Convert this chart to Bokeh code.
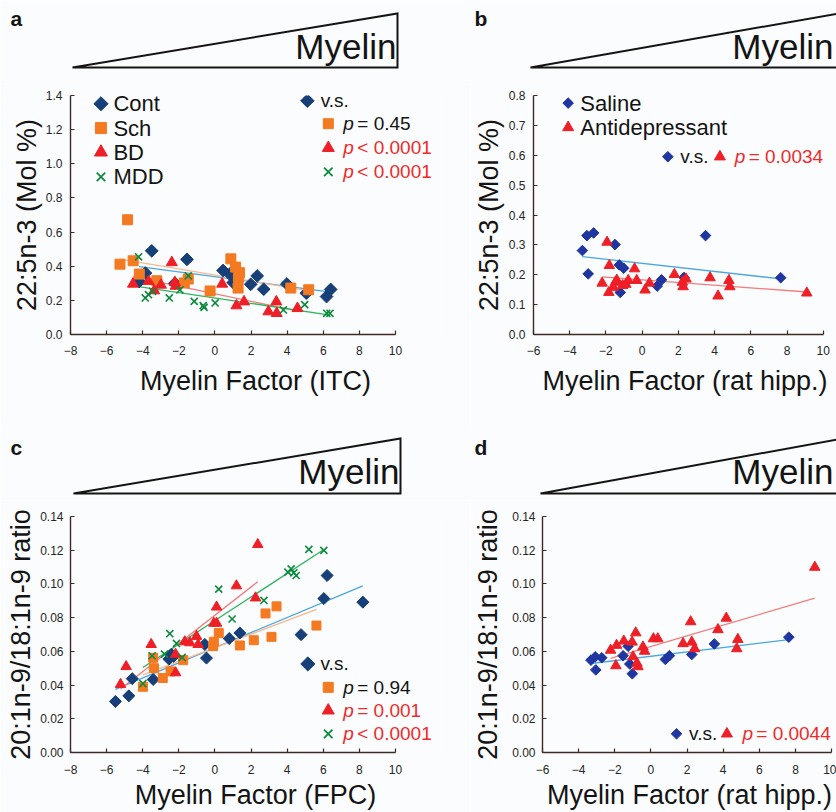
import numpy as np
from bokeh.plotting import figure
from bokeh.models import Label, FixedTicker, Range1d, CustomJSTickFormatter, NumeralTickFormatter
from bokeh.layouts import column, row
from bokeh.embed import file_html
from bokeh.resources import INLINE

# ---------------- data ----------------
# a: 22:5n-3 (Mol %) vs Myelin Factor (ITC)
cont_itc_x = [-4.2, -3.85, -3.5, -2.22, -1.55, 0.45, 0.82, 1.01, 1.98, 2.34, 2.7, 3.98, 5.06, 6.18, 6.41]
cont_itc_y = [0.31, 0.36, 0.49, 0.30, 0.44, 0.375, 0.354, 0.304, 0.294, 0.343, 0.265, 0.296, 0.242, 0.222, 0.264]
sch_itc_x = [-4.84, -5.26, -4.53, -4.19, -3.22, -1.70, -1.48, -0.27, 0.88, 1.14, 1.36, 1.30, 1.28, 4.20, 5.19]
sch_itc_y = [0.672, 0.412, 0.432, 0.354, 0.315, 0.302, 0.325, 0.255, 0.443, 0.395, 0.362, 0.334, 0.272, 0.272, 0.262]
bd_itc_x = [-4.54, -3.68, -3.36, -2.99, -2.39, -2.22, -2.18, 0.40, 1.19, 1.61, 2.96, 3.40, 3.42, 4.57]
bd_itc_y = [0.296, 0.312, 0.257, 0.290, 0.422, 0.305, 0.284, 0.296, 0.169, 0.192, 0.134, 0.192, 0.124, 0.153]
mdd_itc_x = [-4.23, -3.86, -3.68, -3.45, -2.53, -1.94, -1.48, -1.15, -0.65, -0.60, 0.01, 3.79, 4.97, 6.19, 6.37]
mdd_itc_y = [0.455, 0.214, 0.233, 0.253, 0.214, 0.261, 0.344, 0.194, 0.169, 0.159, 0.185, 0.144, 0.175, 0.124, 0.124]

# b: 22:5n-3 (Mol %) vs Myelin Factor (rat hipp.)
sal_b_x = [-3.30, -3.05, -2.68, -2.98, -1.50, -1.26, -1.02, -1.21, 0.83, 1.07, 2.31, 3.50, 7.65]
sal_b_y = [0.281, 0.331, 0.340, 0.203, 0.301, 0.233, 0.222, 0.141, 0.162, 0.183, 0.191, 0.331, 0.190]
ad_b_x = [-1.94, -2.21, -1.81, -1.84, -1.48, -1.40, -1.59, -1.08, -0.77, -0.90, -0.42, -0.30, 0.16, 0.40,
          1.78, 2.22, 2.26, 2.42, 3.75, 4.19, 4.79, 4.84, 9.09]
ad_b_y = [0.309, 0.172, 0.231, 0.141, 0.175, 0.182, 0.158, 0.164, 0.181, 0.168, 0.220, 0.181, 0.149, 0.172,
          0.201, 0.175, 0.160, 0.186, 0.190, 0.129, 0.181, 0.160, 0.139]

# c: 20:1n-9/18:1n-9 ratio vs Myelin Factor (FPC)
cont_fpc_x = [-5.51, -4.77, -4.58, -3.42, -2.55, -2.41, -2.30, -0.56, -0.47, 0.79, 1.38, 4.77, 6.03, 6.21, 8.19]
cont_fpc_y = [0.0303, 0.0336, 0.0438, 0.0433, 0.0554, 0.0583, 0.0570, 0.0641, 0.0560, 0.0676, 0.0709, 0.0699,
              0.0913, 0.1050, 0.0892]
sch_fpc_x = [-3.99, -3.38, -3.42, -2.89, -2.46, -1.76, -0.10, -0.06, 0.21, 1.38, 2.15, 2.80, 3.13, 3.41, 5.62]
sch_fpc_y = [0.0390, 0.0500, 0.0562, 0.0442, 0.0481, 0.0548, 0.0631, 0.0657, 0.0709, 0.0635, 0.0666, 0.0825,
             0.0686, 0.0867, 0.0753]
bd_fpc_x = [-5.23, -4.92, -3.53, -2.18, -2.18, -1.67, -1.39, -1.02, -0.93, -0.06, 0.09, 0.09, 1.19, 2.25, 2.37]
bd_fpc_y = [0.0404, 0.0510, 0.0641, 0.0583, 0.0473, 0.0657, 0.0651, 0.0689, 0.0641, 0.0767, 0.0767, 0.0863,
            0.0989, 0.0917, 0.1234]
mdd_fpc_x = [-3.99, -3.48, -2.79, -2.50, -2.13, -1.82, 0.21, 0.95, 2.71, 4.04, 4.22, 4.37, 4.50, 5.20, 6.03]
mdd_fpc_y = [0.0409, 0.0574, 0.0583, 0.0705, 0.0647, 0.0564, 0.0969, 0.0792, 0.0902, 0.1070, 0.1089, 0.1066,
             0.1050, 0.1205, 0.1199]

# d: 20:1n-9/18:1n-9 ratio vs Myelin Factor (rat hipp.)
sal_d_x = [-3.32, -3.08, -3.05, -2.72, -1.54, -1.26, -1.17, -1.03, 0.80, 1.02, 2.26, 3.51, 7.63]
sal_d_y = [0.0548, 0.0568, 0.0490, 0.0562, 0.0574, 0.0630, 0.0525, 0.0467, 0.0552, 0.0574, 0.0581, 0.0644, 0.0684]
ad_d_x = [-2.23, -1.94, -1.90, -1.50, -1.04, -0.99, -0.84, -0.77, -0.72, -0.44, -0.35, 0.14, 0.38, 1.78,
          2.20, 2.26, 2.42, 3.71, 4.17, 4.81, 4.75, 9.07]
ad_d_y = [0.0607, 0.0515, 0.0636, 0.0661, 0.0655, 0.0568, 0.0710, 0.0529, 0.0509, 0.0626, 0.0601, 0.0675,
          0.0675, 0.0646, 0.0776, 0.0655, 0.0616, 0.0729, 0.0797, 0.0671, 0.0616, 0.1099]

xticks_itc = [-8, -6, -4, -2, 0, 2, 4, 6, 8, 10]
xticks_rat = [-6, -4, -2, 0, 2, 4, 6, 8, 10]
yticks_a = [0.0, 0.2, 0.4, 0.6, 0.8, 1.0, 1.2, 1.4]
yticks_b = [0.0, 0.1, 0.2, 0.3, 0.4, 0.5, 0.6, 0.7, 0.8]
yticks_cd = [0.0, 0.02, 0.04, 0.06, 0.08, 0.10, 0.12, 0.14]

pval_a = ["= 0.45", "< 0.0001", "< 0.0001"]
pval_b = "= 0.0034"
pval_c = ["= 0.94", "= 0.001", "< 0.0001"]
pval_d = "= 0.0044"

# ---------------- style ----------------
FONT = "Liberation Sans"
BG = "#fbfcfd"
AXC = "#3d2a24"
INK = "#141414"
RED_TXT = "#ee2b2b"
C_CONT = "#173f78"
C_SAL = "#1f36a0"
C_SCH = "#f47a22"
C_BD = "#ee1f26"
C_MDD = "#0c8a3d"
L_BLUE = "#4aa6e2"
L_ORANGE = "#f7b98f"
L_RED = "#f27b7b"
L_GREEN = "#2eb460"

X_FMT = CustomJSTickFormatter(code="return tick < 0 ? '\u2212' + Math.abs(tick) : String(tick);")


def make_scatter(w, h, bl, br, bt, bb, xr, xbounds, yr, xticks, yticks, yfmt, xlabel, ylabel,
                 ylab_standoff, ymaj_standoff, xmaj_standoff, xlab_standoff):
    p = figure(width=w, height=h, x_range=Range1d(*xr), y_range=Range1d(*yr), title=None,
               output_backend="svg", toolbar_location=None,
               min_border_left=bl, min_border_right=br, min_border_top=bt, min_border_bottom=bb,
               background_fill_color=BG, border_fill_color=BG, outline_line_color=None)
    p.grid.visible = False
    p.xaxis.ticker = FixedTicker(ticks=xticks)
    p.xaxis.formatter = X_FMT
    p.xaxis.bounds = xbounds
    p.yaxis.ticker = FixedTicker(ticks=yticks)
    p.yaxis.formatter = NumeralTickFormatter(format=yfmt)
    p.xaxis.axis_label = xlabel
    p.yaxis.axis_label = ylabel
    for ax in (p.xaxis[0], p.yaxis[0]):
        ax.axis_line_color = AXC
        ax.axis_line_width = 1.4
        ax.major_tick_line_color = AXC
        ax.major_tick_line_width = 1.2
        ax.major_tick_in = 4
        ax.major_tick_out = 0
        ax.minor_tick_line_color = None
        ax.major_label_text_font = FONT
        ax.major_label_text_font_size = "12px"
        ax.major_label_text_color = "#262626"
        ax.axis_label_text_font = FONT
        ax.axis_label_text_font_size = "27px"
        ax.axis_label_text_font_style = "normal"
        ax.axis_label_text_color = INK
    p.xaxis.major_label_standoff = xmaj_standoff
    p.xaxis.axis_label_standoff = xlab_standoff
    p.yaxis.major_label_standoff = ymaj_standoff
    p.yaxis.axis_label_standoff = ylab_standoff
    return p


def ref_mapper(left, right, top, bottom, xr, yr):
    def f(rx, ry):
        x = xr[0] + (rx - left) / (right - left) * (xr[1] - xr[0])
        y = yr[0] + (bottom - ry) / (bottom - top) * (yr[1] - yr[0])
        return x, y
    return f


def fit(p, xs, ys, color):
    k, b = np.polyfit(xs, ys, 1)
    x0, x1 = min(xs), max(xs)
    p.line([x0, x1], [k * x0 + b, k * x1 + b], line_color=color, line_width=1.3)


def diamond(p, xs, ys, color, size):
    p.scatter(xs, ys, marker="square", angle=np.pi / 4, size=size, fill_color=color, line_color=color)


def square(p, xs, ys, color, size):
    p.scatter(xs, ys, marker="square", size=size, fill_color=color, line_color=color)


def tri(p, xs, ys, color, size):
    p.scatter(xs, ys, marker="triangle", size=size, fill_color=color, line_color=color)


def cross(p, xs, ys, color, size, lw=1.6):
    p.scatter(xs, ys, marker="x", size=size, line_color=color, line_width=lw)


def text(p, m, rx, ry, s, size, color=INK, style="normal", align="left"):
    x, y = m(rx, ry)
    p.add_layout(Label(x=x, y=y, text=s, text_font=FONT, text_font_size=size, text_color=color,
                       text_font_style=style, text_align=align, text_baseline="middle"))


def ptext(p, m, rx, ry, rest, color):
    text(p, m, rx, ry, "p", "19px", color, "italic")
    text(p, m, rx + 14, ry, rest, "19px", color)


def make_header(w, h, ox, oy, tri_pts, my_rx, my_ry, letter, let_rx, let_ry):
    hf = figure(width=w, height=h, x_range=Range1d(0, w), y_range=Range1d(0, h), title=None,
                x_axis_type=None, y_axis_type=None, output_backend="svg", toolbar_location=None,
                min_border_left=0, min_border_right=0, min_border_top=0, min_border_bottom=0,
                background_fill_color=BG, border_fill_color=BG, outline_line_color=None)
    hf.grid.visible = False
    xs = [px - ox for px, _ in tri_pts]
    ys = [oy + h - py for _, py in tri_pts]
    hf.patch(xs, ys, fill_color=BG, line_color=INK, line_width=2, line_join="miter")
    hf.add_layout(Label(x=my_rx - ox, y=oy + h - my_ry, text="Myelin", text_font=FONT,
                        text_font_size="35px", text_align="right", text_baseline="middle",
                        text_color=INK))
    hf.add_layout(Label(x=let_rx - ox, y=oy + h - let_ry, text=letter, text_font=FONT,
                        text_font_size="21px", text_font_style="bold", text_align="left",
                        text_baseline="middle", text_color=INK))
    return hf


# ---------------- headers ----------------
hA = make_header(470, 80, 0, 0, [(72, 67), (397, 67), (397, 13)], 396, 46, "a", 10, 18)
hB = make_header(366, 80, 470, 0, [(530, 67), (838, 67), (838, 13)], 833, 46, "b", 474, 18)
hC = make_header(470, 70, 0, 430, [(73, 493), (400, 493), (400, 438)], 399, 471, "c", 10, 447)
hD = make_header(366, 70, 470, 430, [(540, 493), (842, 493), (842, 438)], 833, 471, "d", 474, 447)

# ---------------- panel a ----------------
pA = make_scatter(470, 350, 70, 30, 14, 96, (-8, 12.49), (-8, 10), (0, 1.4), xticks_itc, yticks_a, "0.0",
                  "Myelin Factor (ITC)", "22:5n-3 (Mol %)", 1, 8, 11, 8)
mA = ref_mapper(69.5, 395, 94, 334, (-8, 10), (0, 1.4))
fit(pA, cont_itc_x, cont_itc_y, L_BLUE)
fit(pA, sch_itc_x, sch_itc_y, L_ORANGE)
fit(pA, bd_itc_x, bd_itc_y, L_RED)
fit(pA, mdd_itc_x, mdd_itc_y, L_GREEN)
diamond(pA, cont_itc_x, cont_itc_y, C_CONT, 9)
square(pA, sch_itc_x, sch_itc_y, C_SCH, 10)
tri(pA, bd_itc_x, bd_itc_y, C_BD, 11)
cross(pA, mdd_itc_x, mdd_itc_y, C_MDD, 10)
# legend (left)
names_a = ["Cont", "Sch", "BD", "MDD"]
leg_y = [102.3, 126.7, 151, 175.7]
lx, ly = mA(100, leg_y[0]); diamond(pA, [lx], [ly], C_CONT, 10)
lx, ly = mA(100, leg_y[1]); square(pA, [lx], [ly], C_SCH, 11)
lx, ly = mA(100, leg_y[2]); tri(pA, [lx], [ly], C_BD, 13)
lx, ly = mA(100, leg_y[3]); cross(pA, [lx], [ly], C_MDD, 12, 1.8)
for nm, yy in zip(names_a, leg_y):
    text(pA, mA, 112.5, yy, nm, "22px")
# legend (right)
lx, ly = mA(306.7, 99.3); diamond(pA, [lx], [ly], C_CONT, 9.5)
text(pA, mA, 320, 99.3, "v.s.", "19px")
lx, ly = mA(327.7, 122.3); square(pA, [lx], [ly], C_SCH, 10)
ptext(pA, mA, 342.7, 122.3, pval_a[0], INK)
lx, ly = mA(327.7, 146.7); tri(pA, [lx], [ly], C_BD, 12)
ptext(pA, mA, 342.7, 146.7, pval_a[1], RED_TXT)
lx, ly = mA(327.7, 170.7); cross(pA, [lx], [ly], C_MDD, 12, 1.8)
ptext(pA, mA, 342.7, 170.7, pval_a[2], RED_TXT)

# ---------------- panel b ----------------
pB = make_scatter(366, 350, 60, 0, 15, 96, (-6, 10.73), (-6, 10), (0, 0.8), xticks_rat, yticks_b, "0.0",
                  "Myelin Factor (rat hipp.)", "22:5n-3 (Mol %)", 2, 8, 11, 8)
mB = ref_mapper(530, 822.7, 94.7, 334, (-6, 10), (0, 0.8))
fit(pB, sal_b_x, sal_b_y, L_BLUE)
fit(pB, ad_b_x, ad_b_y, L_RED)
diamond(pB, sal_b_x, sal_b_y, C_SAL, 7.5)
tri(pB, ad_b_x, ad_b_y, C_BD, 10.5)
lx, ly = mB(565, 102.3); diamond(pB, [lx], [ly], C_SAL, 7.5)
text(pB, mB, 577.3, 102.3, "Saline", "22px")
lx, ly = mB(565, 126.7); tri(pB, [lx], [ly], C_BD, 11)
text(pB, mB, 577.3, 126.7, "Antidepressant", "22px")
lx, ly = mB(665.7, 156); diamond(pB, [lx], [ly], C_SAL, 7.5)
text(pB, mB, 678.3, 156, "v.s.", "19px")
lx, ly = mB(718.3, 156); tri(pB, [lx], [ly], C_BD, 11)
ptext(pB, mB, 733.3, 156, pval_b, RED_TXT)

# ---------------- panel c ----------------
pC = make_scatter(470, 312, 70, 30, 14, 58, (-8, 12.49), (-8, 10), (0, 0.14), xticks_itc, yticks_cd, "0.00",
                  "Myelin Factor (FPC)", "20:1n-9/18:1n-9 ratio", 1, 7, 12, 3)
mC = ref_mapper(70, 395, 514, 755.7, (-8, 10), (0, 0.14))
fit(pC, cont_fpc_x, cont_fpc_y, L_BLUE)
fit(pC, sch_fpc_x, sch_fpc_y, L_ORANGE)
fit(pC, bd_fpc_x, bd_fpc_y, L_RED)
fit(pC, mdd_fpc_x, mdd_fpc_y, L_GREEN)
diamond(pC, cont_fpc_x, cont_fpc_y, C_CONT, 8.5)
square(pC, sch_fpc_x, sch_fpc_y, C_SCH, 9)
tri(pC, bd_fpc_x, bd_fpc_y, C_BD, 10.5)
cross(pC, mdd_fpc_x, mdd_fpc_y, C_MDD, 10)
lx, ly = mC(307.3, 665); diamond(pC, [lx], [ly], C_CONT, 10)
text(pC, mC, 320, 665, "v.s.", "19px")
lx, ly = mC(327.7, 689); square(pC, [lx], [ly], C_SCH, 10)
ptext(pC, mC, 342.7, 689, pval_c[0], INK)
lx, ly = mC(327.7, 712.7); tri(pC, [lx], [ly], C_BD, 12)
ptext(pC, mC, 342.7, 712.7, pval_c[1], RED_TXT)
lx, ly = mC(327.7, 736.7); cross(pC, [lx], [ly], C_MDD, 12, 1.8)
ptext(pC, mC, 342.7, 736.7, pval_c[2], RED_TXT)

# ---------------- panel d ----------------
pD = make_scatter(366, 312, 68, 0, 16, 58, (-6, 10.27), (-6, 10), (0, 0.14), xticks_rat, yticks_cd, "0.00",
                  "Myelin Factor (rat hipp.)", "20:1n-9/18:1n-9 ratio", 6, 7, 12, 3)
mD = ref_mapper(538.3, 831, 515.7, 755.7, (-6, 10), (0, 0.14))
fit(pD, sal_d_x, sal_d_y, L_BLUE)
fit(pD, ad_d_x, ad_d_y, L_RED)
diamond(pD, sal_d_x, sal_d_y, C_SAL, 7.5)
tri(pD, ad_d_x, ad_d_y, C_BD, 10.5)
lx, ly = mD(674, 736.7); diamond(pD, [lx], [ly], C_SAL, 7.5)
text(pD, mD, 686.7, 736.7, "v.s.", "19px")
lx, ly = mD(725, 736.7); tri(pD, [lx], [ly], C_BD, 11)
ptext(pD, mD, 740.7, 736.7, pval_d, RED_TXT)

layout = column(row(hA, hB), row(pA, pB), row(hC, hD), row(pC, pD))

with open("out.html", "w", encoding="utf-8") as f:
    f.write(file_html(layout, INLINE))
